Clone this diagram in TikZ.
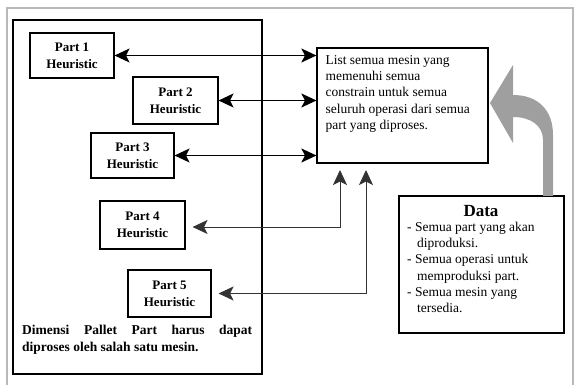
\documentclass[tikz,border=0pt]{standalone}
\usepackage{fontspec}
\setmainfont{Liberation Serif}
\usetikzlibrary{arrows.meta,calc}
\begin{document}
\begin{tikzpicture}[x=1pt,y=-1pt,
  partbox/.style={draw,line width=1.1pt,align=center,inner sep=0pt,font=\fontsize{13}{17}\selectfont\bfseries},
  plainbox/.style={draw,line width=1.2pt,inner sep=0pt},
  bodytext/.style={inner sep=0pt,font=\fontsize{13.5}{16.2}\selectfont},
  bigtip/.tip={Stealth[length=15pt,width=14pt,inset=3.5pt]},
  conn/.style={line width=1.2pt,{bigtip}-{bigtip}},
  thinconn/.style={line width=1pt,black!80,{bigtip}-{bigtip}}]
\useasboundingbox (0,0) rectangle (576,385);
% outer frame (open at the bottom) and main box
\draw[gray!55,line width=1.8pt] (7,386) -- (7,8) -- (573,8) -- (573,386);
\draw[line width=1.4pt] (13,20) rectangle (262,374);
% part heuristic boxes
\node[partbox,minimum width=84pt,minimum height=45pt] (p1) at (72,55.5) {Part 1\\Heuristic};
\node[partbox,minimum width=85pt,minimum height=47pt] (p2) at (175.5,100.5) {Part 2\\Heuristic};
\node[partbox,minimum width=83pt,minimum height=45pt] (p3) at (132.5,155.5) {Part 3\\Heuristic};
\node[partbox,minimum width=85pt,minimum height=48pt] (p4) at (142.5,225) {Part 4\\Heuristic};
\node[partbox,minimum width=83pt,minimum height=47pt] (p5) at (169.5,293.5) {Part 5\\Heuristic};
% bottom note
\node[anchor=north west,text width=230pt,align=justify,inner sep=0pt,font=\fontsize{13.5}{17}\selectfont\bfseries] (note) at (22,325)
  {\hyphenpenalty=10000 Dimensi Pallet Part harus dapat diproses oleh salah satu mesin.};
% list box
\node[plainbox,minimum width=171pt,minimum height=115pt] (list) at (402.5,105.5) {};
\node[bodytext,anchor=north west,align=left] (listtext) at ($(list.north west)+(9,8)$)
  {List semua mesin yang\\memenuhi semua\\constrain untuk semua\\seluruh operasi dari semua\\part yang diproses.};
% data box
\node[plainbox,minimum width=165pt,minimum height=137pt] (data) at (481.5,264.5) {};
\node[inner sep=0pt,font=\fontsize{17}{20}\selectfont\bfseries] (datatitle) at (481,211) {Data};
\node[bodytext,anchor=north west,align=left] (datatext) at (407,222)
  {- Semua part yang akan\\\hspace*{10pt}diproduksi.\\- Semua operasi untuk\\\hspace*{10pt}memproduksi part.\\- Semua mesin yang\\\hspace*{10pt}tersedia.};
% connectors
\draw[conn] (p1.east) -- (p1.east -| list.west);
\draw[conn] (p2.east) -- (p2.east -| list.west);
\draw[conn] (p3.east) -- (p3.east -| list.west);
\coordinate (t4) at (340,170);
\coordinate (t5) at (366,170);
\draw[thinconn] ([xshift=7pt,yshift=-2pt]p4.east) -| (t4);
\draw[thinconn] ([xshift=7pt]p5.east) -| (t5);
% big gray curved arrow from data to list
\fill[gray!75] (490,103) -- (513,65) -- (513,95)
  .. controls (538,95) and (553,110) .. (553,135) -- (553,196) -- (543,196) -- (543,140)
  .. controls (543,125) and (530,117) .. (513,117) -- (513,143) -- cycle;
\end{tikzpicture}
\end{document}
